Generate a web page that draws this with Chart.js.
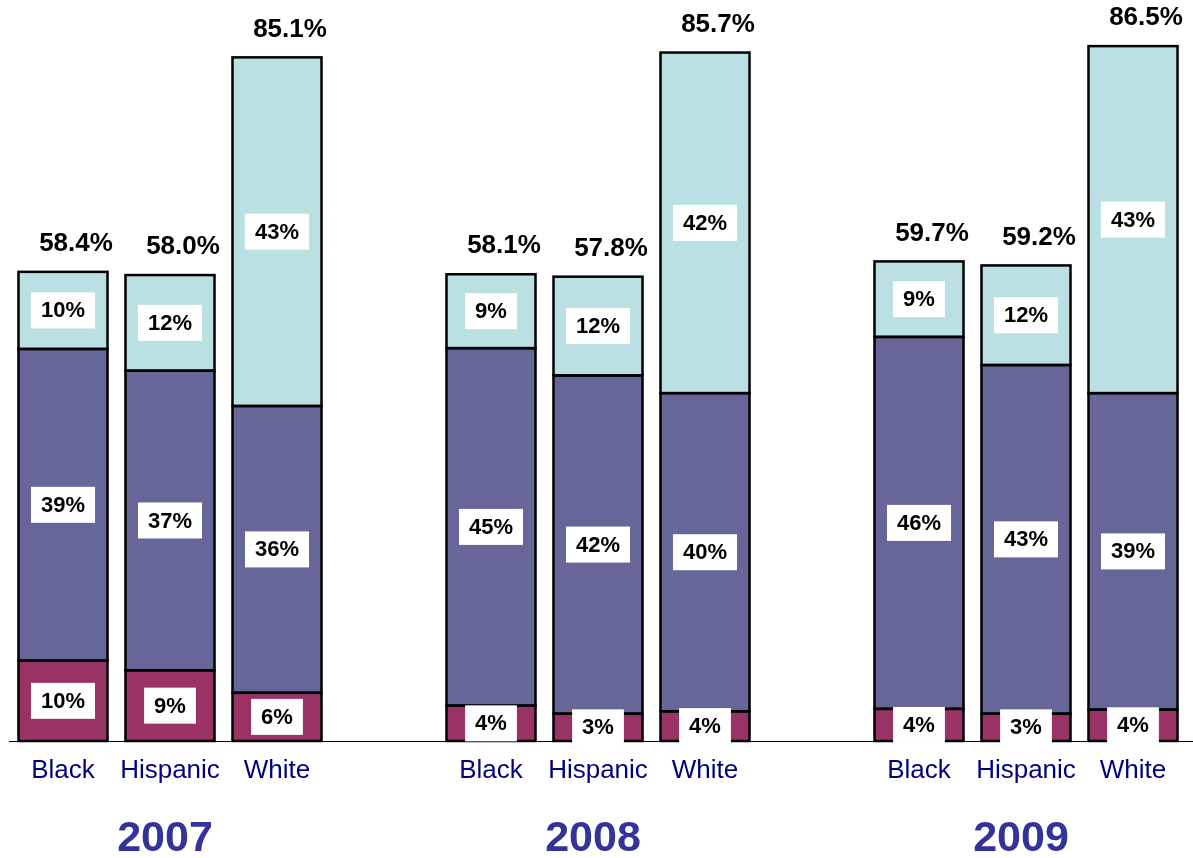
<!DOCTYPE html>
<html>
<head>
<meta charset="utf-8">
<script src="https://cdn.jsdelivr.net/npm/chart.js@4/dist/chart.umd.min.js"></script>
<style>
  html, body { margin: 0; padding: 0; background: #fff; overflow: hidden; }
  #wrap { width: 1193px; height: 858px; position: relative; }
</style>
</head>
<body>
<div id="wrap"><canvas id="chart" width="1193" height="858"></canvas></div>
<script>
// Groups and years
const groups = ['Black', 'Hispanic', 'White'];
const years = ['2007', '2008', '2009'];

// Segment values (%), order: 2007 B/H/W, 2008 B/H/W, 2009 B/H/W
const bottomSeg = [10.0, 8.8, 6.0, 4.4, 3.4, 3.7, 4.0, 3.4, 3.9];
const middleSeg = [38.8, 37.3, 35.7, 44.5, 42.1, 39.6, 46.3, 43.4, 39.4];
const topSeg = [9.6, 11.9, 43.4, 9.2, 12.3, 42.4, 9.4, 12.4, 43.2];

// Build category slots with an empty slot between years
const labels = [];
const slotIndex = [];
years.forEach((yr, yi) => {
    if (yi > 0) labels.push('');
    groups.forEach((g) => {
        slotIndex.push(labels.length);
        labels.push(g);
    });
});

function spread(values) {
    const out = labels.map(() => null);
    values.forEach((v, i) => { out[slotIndex[i]] = v; });
    return out;
}

const totals = bottomSeg.map((v, i) => v + middleSeg[i] + topSeg[i]);

const labelPlugin = {
    id: 'labelPlugin',
    beforeDatasetsDraw(chart) {
        const ctx = chart.ctx;
        const base = chart.scales.y.getPixelForValue(0);
        ctx.save();
        ctx.strokeStyle = '#000';
        ctx.lineWidth = 1;
        ctx.beginPath();
        ctx.moveTo(9, Math.round(base) + 0.5);
        ctx.lineTo(1193, Math.round(base) + 0.5);
        ctx.stroke();
        ctx.restore();
    },
    afterDatasetsDraw(chart) {
        const ctx = chart.ctx;
        const xScale = chart.scales.x;
        ctx.save();

        // Segment outlines
        ctx.strokeStyle = '#000';
        ctx.lineWidth = 2.5;
        chart.data.datasets.forEach((ds, di) => {
            chart.getDatasetMeta(di).data.forEach((bar, i) => {
                if (ds.data[i] === null) return;
                const top = Math.min(bar.y, bar.base);
                const h = Math.abs(bar.base - bar.y);
                ctx.strokeRect(bar.x - bar.width / 2, top, bar.width, h);
            });
        });

        ctx.textAlign = 'center';
        ctx.textBaseline = 'middle';

        // Segment value boxes
        ctx.font = 'bold 22px "Liberation Sans", Arial, sans-serif';
        chart.data.datasets.forEach((ds, di) => {
            const meta = chart.getDatasetMeta(di);
            meta.data.forEach((bar, i) => {
                const v = ds.data[i];
                if (v === null) return;
                const txt = Math.round(v) + '%';
                const cy = (bar.y + bar.base) / 2;
                const w = ctx.measureText(txt).width + 20;
                const h = 36;
                ctx.fillStyle = '#fff';
                ctx.fillRect(bar.x - w / 2, cy - h / 2, w, h);
                ctx.fillStyle = '#000';
                ctx.fillText(txt, bar.x, cy + 1);
            });
        });

        // Totals above bars
        const topMeta = chart.getDatasetMeta(2);
        ctx.font = 'bold 26px "Liberation Sans", Arial, sans-serif';
        ctx.fillStyle = '#000';
        totals.forEach((t, i) => {
            const bar = topMeta.data[slotIndex[i]];
            ctx.fillText(t.toFixed(1) + '%', bar.x + 13, bar.y - 28);
        });

        // Category labels
        ctx.font = '26px "Liberation Sans", Arial, sans-serif';
        ctx.fillStyle = '#000080';
        labels.forEach((lab, i) => {
            if (!lab) return;
            ctx.fillText(lab, xScale.getPixelForValue(i), 771);
        });

        // Year labels
        ctx.font = 'bold 43px "Liberation Sans", Arial, sans-serif';
        ctx.fillStyle = '#333399';
        years.forEach((yr, yi) => {
            ctx.fillText(yr, xScale.getPixelForValue(slotIndex[yi * 3 + 1]) - 5, 839);
        });
        ctx.restore();
    }
};

const commonBar = {
    borderWidth: 0,
    barPercentage: 0.832,
    categoryPercentage: 1.0
};

new Chart(document.getElementById('chart').getContext('2d'), {
    type: 'bar',
    data: {
        labels: labels,
        datasets: [
            Object.assign({ label: 'bottom', data: spread(bottomSeg), backgroundColor: '#993366' }, commonBar),
            Object.assign({ label: 'middle', data: spread(middleSeg), backgroundColor: '#666699' }, commonBar),
            Object.assign({ label: 'top', data: spread(topSeg), backgroundColor: '#BBE0E3' }, commonBar)
        ]
    },
    options: {
        responsive: false,
        animation: false,
        layout: { padding: { left: 9.5, right: 6.5, top: 18, bottom: 117 } },
        scales: {
            x: { stacked: true, display: false },
            y: { stacked: true, display: false, min: 0, max: 90 }
        },
        plugins: {
            legend: { display: false },
            tooltip: { enabled: false }
        }
    },
    plugins: [labelPlugin]
});
</script>
</body>
</html>
